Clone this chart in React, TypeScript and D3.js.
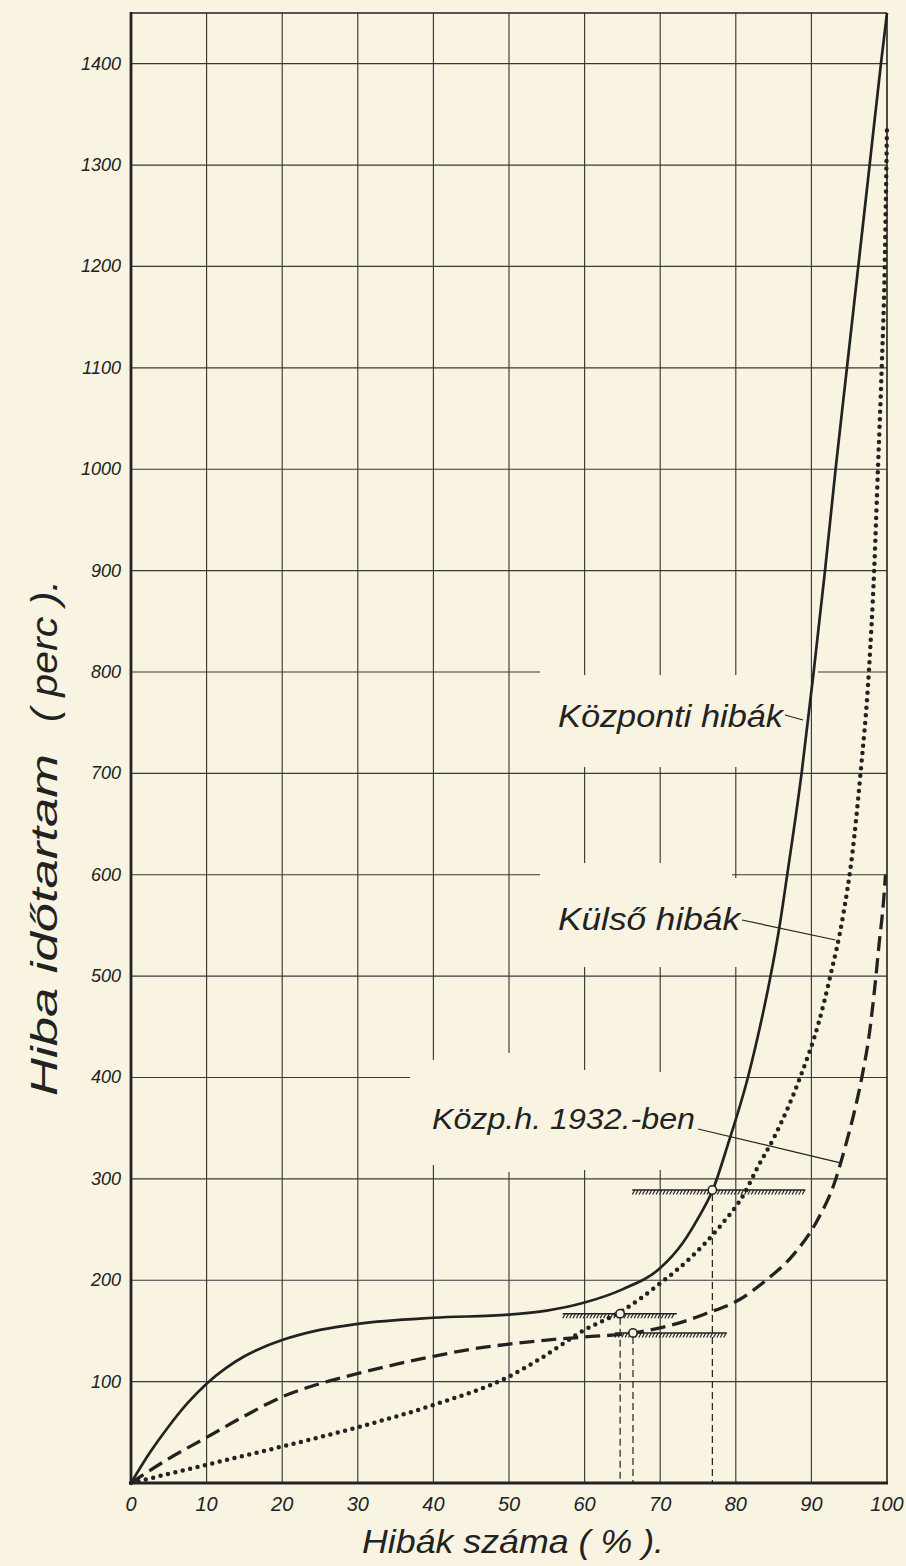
import React from 'react';
import * as d3 from 'd3';

// ---- data ----
const xTicks = [0, 10, 20, 30, 40, 50, 60, 70, 80, 90, 100];
const yTicks = [100, 200, 300, 400, 500, 600, 700, 800, 900, 1000, 1100, 1200, 1300, 1400];

// "Központi hibák" (solid)
const kozpontiHibak: [number, number][] = [
  [0, 0], [2.5, 30], [5, 56], [7.5, 79], [10, 98], [12.5, 113], [15, 125], [17.5, 134], [20, 141],
  [25, 151], [30, 157], [40, 163], [50, 166], [55, 170], [60, 178], [65, 191], [70, 212],
  [73, 237], [75, 261], [77, 290], [79, 335], [81.6, 400], [83.2, 450], [84.6, 500], [85.8, 550],
  [86.8, 600], [88.7, 700], [90.3, 800], [91.8, 900], [93.2, 1000], [94.7, 1100], [96.2, 1200],
  [97.7, 1300], [99.2, 1400], [100, 1450],
];

// "Külső hibák" (dotted)
const kulsoHibak: [number, number][] = [
  [0, 0], [5, 9], [10, 18], [20, 36], [30, 55], [40, 77], [50, 105], [54, 122], [60, 151],
  [65, 170], [70, 197], [74, 222], [78, 254], [81, 284], [83, 313], [85, 340], [88.5, 400],
  [91, 455], [92.5, 500], [94.2, 560], [95.4, 620], [96.5, 700], [97.6, 800], [98.3, 900],
  [98.8, 1000], [99.3, 1100], [99.7, 1200], [100, 1340],
];

// "Közp.h. 1932.-ben" (dashed)
const kozp1932: [number, number][] = [
  [0, 0], [2, 10], [5, 24], [10, 45], [15, 66], [20, 85], [25, 98], [30, 108], [35, 117],
  [40, 125], [45, 132], [50, 137], [55, 141], [60, 144], [66.4, 148], [70, 153], [73, 159],
  [76, 167], [80.5, 181], [84, 200], [87.6, 225], [90.7, 258], [93, 295], [94.6, 335],
  [95.8, 370], [96.8, 405], [97.7, 445], [98.4, 490], [99, 535], [99.5, 570], [99.8, 600],
];

// hatched threshold levels with marked intersections
const levelValue = [289, 167, 148];
const levelFrom = [66.3, 57.1, 64.0];
const levelTo = [89.2, 72.2, 78.8];
const markerX = [76.9, 64.7, 66.4];

const yTitle1 = 'Hiba időtartam';
const yTitle2 = '( perc ).';
const xTitle = 'Hibák száma ( % ).';
const labelKozponti = 'Központi hibák';
const labelKulso = 'Külső hibák';
const label1932 = 'Közp.h. 1932.-ben';

// ---- layout ----
const W = 906;
const H = 1566;
const PAPER = '#f8f4e1';
const INK = '#222222';
const GRID = '#383838';
const FONT = "'Liberation Sans', Arial, sans-serif";

// grid interruptions (px) where the printed labels sit
const hGaps: Record<number, [number, number][]> = {
  800: [[540, 818]],
  600: [[540, 732]],
  400: [[410, 734]],
};
const vGaps: Record<number, [number, number][]> = {
  40: [[1060, 1165]],
  50: [[1053, 1172]],
  60: [[675, 767], [863, 967], [1070, 1170]],
  70: [[675, 767], [863, 967], [1072, 1170]],
  80: [[675, 767], [878, 967]],
};

function split(a: number, b: number, gaps: [number, number][] = []): [number, number][] {
  const out: [number, number][] = [];
  let cur = a;
  const gs = [...gaps].sort((p, q) => p[0] - q[0]);
  for (const [g0, g1] of gs) {
    if (g0 > cur) out.push([cur, g0]);
    cur = Math.max(cur, g1);
  }
  if (cur < b) out.push([cur, b]);
  return out;
}

export default function App() {
  const x = d3.scaleLinear().domain([0, 100]).range([131, 887]);
  const y = d3.scaleLinear().domain([0, 1450]).range([1483, 13]);
  const line = d3
    .line<[number, number]>()
    .x((d) => x(d[0]))
    .y((d) => y(d[1]))
    .curve(d3.curveMonotoneX);

  const top = y(1450);
  const bottom = y(0);
  const left = x(0);
  const right = x(100);

  const hatch: JSX.Element[] = [];
  levelValue.forEach((v, i) => {
    const yy = y(v);
    const x0 = x(levelFrom[i]);
    const x1 = x(levelTo[i]);
    hatch.push(
      <line key={`hl${i}`} x1={x0} x2={x1} y1={yy} y2={yy} stroke={INK} strokeWidth={1.6} />
    );
    for (let xx = x0 + 2.5; xx <= x1; xx += 3.4) {
      hatch.push(
        <line key={`ht${i}-${xx.toFixed(1)}`} x1={xx} y1={yy} x2={xx - 2.4} y2={yy + 4.5} stroke={INK} strokeWidth={1.2} />
      );
    }
  });

  return (
    <svg
      width={W}
      height={H}
      viewBox={`0 0 ${W} ${H}`}
      style={{ position: 'absolute', left: 0, top: 0 }}
      xmlns="http://www.w3.org/2000/svg"
    >
      <rect x={0} y={0} width={W} height={H} fill={PAPER} />

      {/* grid */}
      <g stroke={GRID} strokeWidth={1.15}>
        {yTicks.map((v) =>
          split(left, right, hGaps[v]).map(([a, b], j) => (
            <line key={`h${v}-${j}`} x1={a} x2={b} y1={y(v)} y2={y(v)} />
          ))
        )}
        {xTicks
          .filter((v) => v > 0 && v < 100)
          .map((v) =>
            split(top, bottom, vGaps[v]).map(([a, b], j) => (
              <line key={`v${v}-${j}`} x1={x(v)} x2={x(v)} y1={a} y2={b} />
            ))
          )}
      </g>

      {/* frame */}
      <line x1={left} x2={right} y1={top} y2={top} stroke={INK} strokeWidth={1.6} />
      <line x1={right} x2={right} y1={top} y2={bottom} stroke={INK} strokeWidth={1.6} />
      <line x1={left} x2={left} y1={top - 1} y2={bottom + 1} stroke={INK} strokeWidth={2.8} />
      <line x1={left - 1} x2={right + 1} y1={bottom} y2={bottom} stroke={INK} strokeWidth={3} />

      {/* tick labels */}
      <g fill={INK} fontFamily={FONT} fontStyle="italic" fontSize={18}>
        {yTicks.map((v) => (
          <text key={`yl${v}`} x={121} y={y(v)} textAnchor="end" dominantBaseline="central">
            {v}
          </text>
        ))}
        {xTicks.map((v) => (
          <text key={`xl${v}`} x={x(v)} y={1511} textAnchor="middle" fontSize={20}>
            {v}
          </text>
        ))}
      </g>

      {/* axis titles */}
      <text x={362} y={1553} fill={INK} fontFamily={FONT} fontStyle="italic" fontSize={33} textLength={302} lengthAdjust="spacingAndGlyphs">
        {xTitle}
      </text>
      <g fill={INK} fontFamily={FONT} fontStyle="italic" fontSize={36}>
        <text transform="translate(57,1096) rotate(-90)" textLength={342} lengthAdjust="spacingAndGlyphs">
          {yTitle1}
        </text>
        <text transform="translate(57,722) rotate(-90)" textLength={142} lengthAdjust="spacingAndGlyphs">
          {yTitle2}
        </text>
      </g>

      {/* hatched levels, drop lines, markers */}
      {hatch}
      <g stroke={INK} strokeWidth={1.2} strokeDasharray="7 4">
        {levelValue.map((v, i) => (
          <line key={`dl${i}`} x1={x(markerX[i])} x2={x(markerX[i])} y1={y(v) + 4} y2={bottom} />
        ))}
      </g>

      {/* curves */}
      <path d={line(kozp1932) || ''} fill="none" stroke={INK} strokeWidth={3.3} strokeDasharray="15 7" />
      <path
        d={line(kulsoHibak) || ''}
        fill="none"
        stroke={INK}
        strokeWidth={4.5}
        strokeDasharray="0 7.6"
        strokeLinecap="round"
      />
      <path d={line(kozpontiHibak) || ''} fill="none" stroke={INK} strokeWidth={2.7} />

      {levelValue.map((v, i) => (
        <circle key={`mk${i}`} cx={x(markerX[i])} cy={y(v)} r={4.2} fill={PAPER} stroke={INK} strokeWidth={1.6} />
      ))}

      {/* curve labels and leaders */}
      <g fill={INK} fontFamily={FONT} fontStyle="italic" fontSize={31}>
        <text x={558} y={727} textLength={225} lengthAdjust="spacingAndGlyphs">{labelKozponti}</text>
        <text x={558} y={930} textLength={182} lengthAdjust="spacingAndGlyphs">{labelKulso}</text>
        <text x={432} y={1129} fontSize={29} textLength={263} lengthAdjust="spacingAndGlyphs">{label1932}</text>
      </g>
      <g stroke={INK} strokeWidth={1.2}>
        <line x1={785} y1={715} x2={x(88.9)} y2={720} />
        <line x1={742} y1={920} x2={x(93.2)} y2={940} />
        <line x1={698} y1={1129} x2={x(93.7)} y2={y(316)} />
      </g>
    </svg>
  );
}
